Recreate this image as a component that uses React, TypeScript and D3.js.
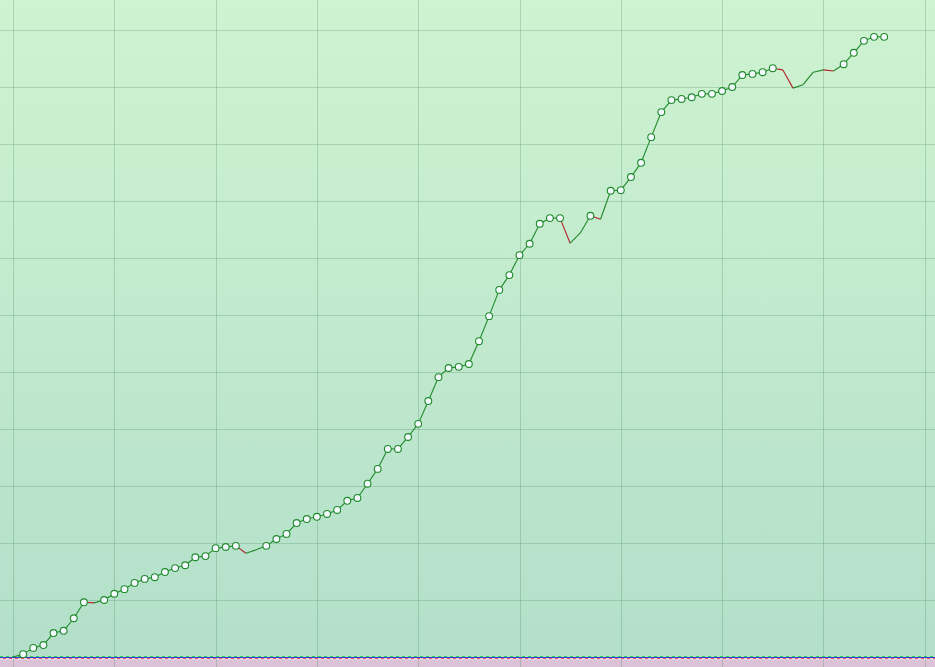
import React from "react";
import * as d3 from "d3";

// Cumulative equity values (grid step = 10 units)
const values: number[] = [
  0, 0.5, 1.6, 2.1, 4.2, 4.6, 6.8, 9.6, 9.5, 10.0,
  11.1, 11.9, 13.0, 13.7, 14.0, 14.9, 15.6, 16.1, 17.5, 17.7,
  19.1, 19.3, 19.5, 18.2, 18.8, 19.5, 20.7, 21.6, 23.5, 24.2,
  24.6, 25.1, 25.8, 27.4, 27.9, 30.4, 33.0, 36.5, 36.5, 38.6,
  40.9, 44.9, 49.1, 50.7, 50.9, 51.4, 55.4, 59.8, 64.4, 67.0,
  70.5, 72.5, 76.0, 77.0, 77.0, 72.6, 74.4, 77.4, 76.8, 81.8,
  81.9, 84.2, 86.7, 91.2, 95.6, 97.7, 97.9, 98.2, 98.8, 98.8,
  99.3, 100.0, 102.1, 102.3, 102.6, 103.3, 103.0, 99.8, 100.4, 102.6,
  103.0, 102.8, 104.0, 106.0, 108.1, 108.8, 108.8,
];

const xTicks: number[] = [0, 10, 20, 30, 40, 50, 60, 70, 80, 90];
const yTicks: number[] = [-10, 0, 10, 20, 30, 40, 50, 60, 70, 80, 90, 100, 110, 120];

const W = 935;
const H = 667;

export default function App() {
  const x = d3.scaleLinear().domain([0, values.length - 1]).range([13, 13 + (values.length - 1) * 10.13]);
  const y = d3.scaleLinear().domain([0, 100]).range([657, 87]);

  const segs: { x1: number; y1: number; x2: number; y2: number; up: boolean }[] = [];
  for (let i = 1; i < values.length; i++) {
    segs.push({
      x1: x(i - 1),
      y1: y(values[i - 1]),
      x2: x(i),
      y2: y(values[i]),
      up: values[i] >= values[i - 1],
    });
  }
  const highs: number[] = [];
  let mx = values[0];
  for (let i = 1; i < values.length; i++) {
    if (values[i] >= mx) {
      highs.push(i);
      mx = values[i];
    }
  }
  const y0 = y(0);

  return (
    <div style={{ position: "fixed", left: 0, top: 0, width: W, height: H, overflow: "hidden" }}>
      <svg width={W} height={H} style={{ display: "block" }}>
        <defs>
          <linearGradient id="bg" x1="0" y1="0" x2="0" y2="1">
            <stop offset="0%" stopColor="#cef3d1" />
            <stop offset="100%" stopColor="#b3dfca" />
          </linearGradient>
        </defs>
        <rect x={0} y={0} width={W} height={y0} fill="url(#bg)" />
        <rect x={0} y={y0 + 1} width={W} height={H - y0} fill="#dcc2d6" />
        <rect x={0} y={y0 + 1.5} width={W} height={1} fill="#ece2ea" />
        {yTicks.map((t) => (
          <line key={"h" + t} x1={0} x2={W} y1={y(t) + 0.5} y2={y(t) + 0.5} stroke="#3d7f52" strokeOpacity={0.25} strokeWidth={1} />
        ))}
        {xTicks.map((t) => (
          <line key={"v" + t} x1={Math.round(x(t)) + 0.5} x2={Math.round(x(t)) + 0.5} y1={0} y2={H} stroke="#3d7f52" strokeOpacity={0.25} strokeWidth={1} />
        ))}
        <line x1={0} x2={W} y1={y0 - 0.5} y2={y0 - 0.5} stroke="#33cc55" strokeWidth={1} strokeDasharray="3 3" />
        <line x1={0} x2={W} y1={y0 + 0.5} y2={y0 + 0.5} stroke="#3344cc" strokeWidth={1} />
        <line x1={0} x2={W} y1={y0 + 1.5} y2={y0 + 1.5} stroke="#e85566" strokeWidth={1} strokeDasharray="3 3" strokeDashoffset={3} />
        {segs.map((s, i) => (
          <line key={"s" + i} x1={s.x1} y1={s.y1} x2={s.x2} y2={s.y2} stroke={s.up ? "#1f8a2a" : "#b3202a"} strokeWidth={1.1} />
        ))}
        {highs.map((i) => (
          <circle key={"c" + i} cx={x(i)} cy={y(values[i])} r={3.4} fill="#f4f8ff" stroke="#1f8a2a" strokeWidth={1.1} />
        ))}
      </svg>
    </div>
  );
}
